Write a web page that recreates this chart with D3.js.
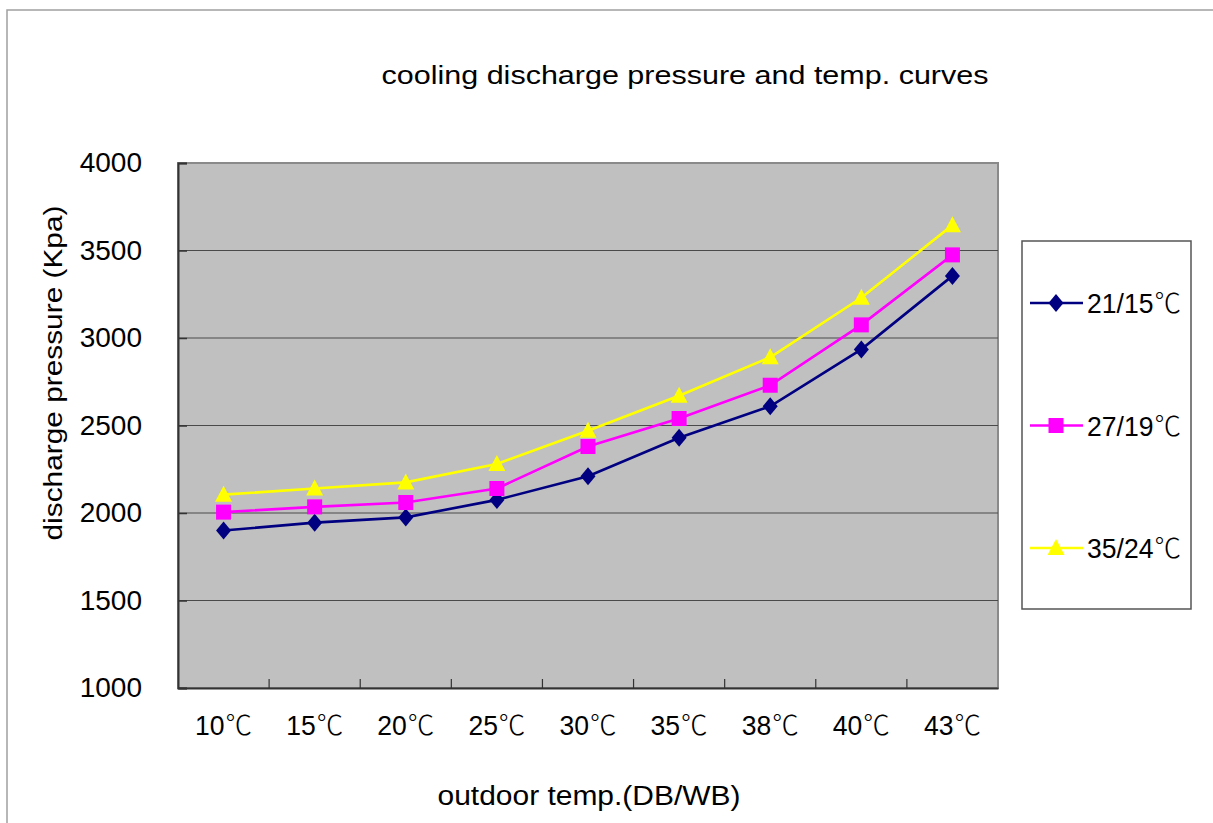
<!DOCTYPE html>
<html><head><meta charset="utf-8">
<script src="https://cdn.jsdelivr.net/npm/d3@7"></script>
<style>
html,body{margin:0;padding:0;background:#fff;}
svg{display:block;}
text{font-family:"Liberation Sans",Arial,"Noto Sans CJK SC",sans-serif;fill:#000;}
</style></head><body>
<script>
const categories = ["10℃","15℃","20℃","25℃","30℃","35℃","38℃","40℃","43℃"];
const seriesNames = ["21/15℃","27/19℃","35/24℃"];
const s21_15 = [1900, 1945, 1975, 2075, 2210, 2430, 2610, 2935, 3355];
const s27_19 = [2005, 2035, 2060, 2140, 2380, 2540, 2730, 3075, 3475];
const s35_24 = [2105, 2140, 2175, 2280, 2470, 2670, 2890, 3230, 3645];
const yTicks = [1000, 1500, 2000, 2500, 3000, 3500, 4000];
const titleText = "cooling discharge pressure and temp. curves";
const xTitle = "outdoor temp.(DB/WB)";
const yTitle = "discharge pressure (Kpa)";

const W = 1213, H = 823;
const plot = {l:178, t:163, r:998, b:688};
const svg = d3.select("body").append("svg").attr("width",W).attr("height",H);

// split a label so the ℃ sign is drawn with a CJK font
function setDegreeText(sel){
  sel.each(function(d){
    const t = d3.select(this);
    const str = typeof d === "string" ? d : t.text();
    t.text(null);
    const parts = str.split("℃");
    t.append("tspan").text(parts[0]);
    if (str.indexOf("℃") >= 0)
      t.append("tspan").attr("font-family","Noto Sans CJK SC").attr("font-weight",300).attr("dx",1).text("℃");
  });
}

// outer frame
svg.append("path").attr("d",`M7,${H} V10 H${W}`).attr("fill","none").attr("stroke","#a0a0a0").attr("stroke-width",1.5);

const x = d3.scaleBand().domain(categories).range([plot.l, plot.r]).padding(0);
const y = d3.scaleLinear().domain([1000,4000]).range([plot.b, plot.t]);

svg.append("rect").attr("x",plot.l).attr("y",plot.t).attr("width",plot.r-plot.l).attr("height",plot.b-plot.t)
  .attr("fill","#c0c0c0").attr("stroke","#8a8a8a").attr("stroke-width",2);

// gridlines
svg.append("g").selectAll("line").data(yTicks.filter(v=>v>1000 && v<4000)).join("line")
  .attr("x1",plot.l).attr("x2",plot.r).attr("y1",d=>y(d)).attr("y2",d=>y(d))
  .attr("stroke","#4a4a4a").attr("stroke-width",1.2);

// y axis
const yAxis = d3.axisLeft(y).tickValues(yTicks).tickSize(-9).tickPadding(36).tickFormat(d3.format("d"));
const gy = svg.append("g").attr("transform",`translate(${plot.l},0)`).call(yAxis);
gy.select(".domain").attr("stroke","#333").attr("stroke-width",2);
gy.selectAll(".tick line").attr("stroke","#333").attr("stroke-width",1.5);
gy.selectAll(".tick text").attr("font-size",28).attr("font-family","Liberation Sans, Arial, sans-serif").attr("fill","#000");

// x axis
const xAxis = d3.axisBottom(x).tickSize(0).tickPadding(28);
const gx = svg.append("g").attr("transform",`translate(0,${plot.b})`).call(xAxis);
gx.select(".domain").attr("stroke","#333").attr("stroke-width",2);
gx.selectAll(".tick text").attr("font-size",27).attr("font-family","Liberation Sans, Arial, sans-serif").attr("fill","#000")
  .attr("textLength",57).attr("lengthAdjust","spacingAndGlyphs").call(setDegreeText);
// x tick marks at category boundaries (inside)
svg.append("g").selectAll("line").data(categories.slice(1)).join("line")
  .attr("x1",d=>x(d)).attr("x2",d=>x(d)).attr("y1",plot.b).attr("y2",plot.b-9)
  .attr("stroke","#333").attr("stroke-width",1.2);

const series = [
  {name:seriesNames[0], values:s21_15, color:"#000080", shape:"diamond"},
  {name:seriesNames[1], values:s27_19, color:"#ff00ff", shape:"square"},
  {name:seriesNames[2], values:s35_24, color:"#ffff00", shape:"triangle"}
];
const markerPath = {
  diamond: "M0,-9 L7.5,0 L0,9 L-7.5,0 Z",
  square: "M-7.5,-7.5 H7.5 V7.5 H-7.5 Z",
  triangle: "M0,-9 L8.5,7 L-8.5,7 Z"
};
const line = d3.line().x((d,i)=>x(categories[i])+x.bandwidth()/2).y(d=>y(d));
series.forEach(s=>{
  svg.append("path").datum(s.values).attr("d",line).attr("fill","none")
    .attr("stroke",s.color).attr("stroke-width",2.6);
});
series.forEach(s=>{
  svg.append("g").selectAll("path").data(s.values).join("path")
    .attr("d",markerPath[s.shape])
    .attr("transform",(d,i)=>`translate(${x(categories[i])+x.bandwidth()/2},${y(d)})`)
    .attr("fill",s.color);
});

// titles
svg.append("text").attr("x",685).attr("y",84).attr("text-anchor","middle").attr("font-size",26)
  .attr("textLength",607).attr("lengthAdjust","spacingAndGlyphs").text(titleText);
svg.append("text").attr("x",589).attr("y",805).attr("text-anchor","middle").attr("font-size",27)
  .attr("textLength",303).attr("lengthAdjust","spacingAndGlyphs").text(xTitle);
svg.append("text").attr("transform","translate(62,373) rotate(-90)").attr("text-anchor","middle").attr("font-size",26)
  .attr("textLength",335).attr("lengthAdjust","spacingAndGlyphs").text(yTitle);

// legend
const lg = svg.append("g");
lg.append("rect").attr("x",1022).attr("y",241).attr("width",169).attr("height",368)
  .attr("fill","#fff").attr("stroke","#555").attr("stroke-width",1.5);
const ly = d3.scalePoint().domain(seriesNames).range([303,548]);
series.forEach(s=>{
  const yy = ly(s.name);
  lg.append("line").attr("x1",1030).attr("x2",1083).attr("y1",yy).attr("y2",yy).attr("stroke",s.color).attr("stroke-width",2.6);
  lg.append("path").attr("d",markerPath[s.shape]).attr("transform",`translate(1056,${yy})`).attr("fill",s.color);
  lg.append("text").attr("x",1087).attr("y",yy+10).attr("font-size",27)
    .attr("textLength",94).attr("lengthAdjust","spacingAndGlyphs").datum(s.name).call(setDegreeText);
});
</script>
</body></html>
